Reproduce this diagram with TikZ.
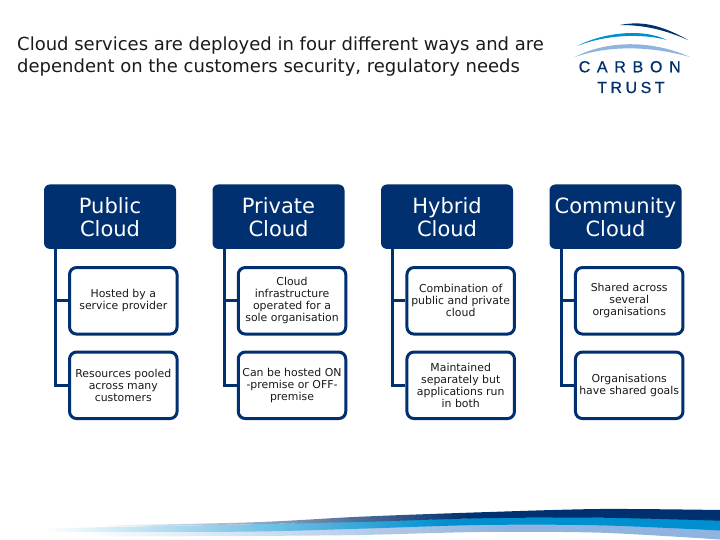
\documentclass[tikz,border=0pt]{standalone}
\usepackage{fontspec}
\setmainfont{DejaVu Sans}
\newfontfamily\logofont[LetterSpace=42,FakeBold=0.7]{Liberation Sans}
\newfontfamily\logofontb[LetterSpace=22,FakeBold=0.7]{Liberation Sans}
\usepackage{tikz}
\definecolor{cnavy}{HTML}{00306F}
\definecolor{csky}{HTML}{0090D0}
\definecolor{cpale}{HTML}{8FB4DF}
\definecolor{ctext}{HTML}{1A1A1A}
% bands at the bottom, 25bp to 75bp of each shading spans the page width
\pgfdeclarehorizontalshading{navyband}{100bp}{color(0bp)=(white); color(32bp)=(white); color(57.6bp)=(cnavy); color(100bp)=(cnavy)}
\pgfdeclarehorizontalshading{skyband}{100bp}{color(0bp)=(white); color(28bp)=(white); color(56bp)=(csky); color(100bp)=(csky)}
\pgfdeclarehorizontalshading{paleband}{100bp}{color(0bp)=(white); color(30.5bp)=(white); color(60bp)=(cpale); color(100bp)=(cpale)}
\tikzset{
  headbox/.style={fill=cnavy,text=white,rounded corners=6pt,minimum width=132pt,minimum height=64.5pt,
    align=center,font=\fontsize{21}{23}\selectfont,inner sep=0pt},
  itembox/.style={draw=cnavy,line width=3pt,fill=white,text=ctext,rounded corners=7pt,minimum width=107.5pt,
    minimum height=66.5pt,align=center,font=\fontsize{10.9}{12}\selectfont,inner sep=0pt},
  branch/.style={draw=cnavy,line width=3pt},
  logotext/.style={text=cnavy,inner sep=0pt,anchor=base west}
}
\begin{document}
\begin{tikzpicture}[x=1pt,y=-1pt]
    \useasboundingbox (0,0) rectangle (720,540);
    % bottom swoosh, lowest band first
    \shade[shading=paleband] plot[smooth] coordinates {(0,532) (240,531) (360,528) (480,524.5) (600,524.5) (720,530)}
       -- plot[smooth] coordinates {(720,539.5) (600,532.7) (480,532) (360,535) (240,536) (0,537)} -- cycle;
    \shade[shading=skyband] plot[smooth] coordinates {(0,529) (240,524.5) (360,521.5) (480,518) (600,517.3) (720,520.2)}
       -- plot[smooth] coordinates {(720,530.5) (600,525.3) (480,525) (360,528.7) (240,531.7) (0,532)} -- cycle;
    \shade[shading=navyband] plot[smooth] coordinates {(0,527) (240,522.7) (360,516.7) (480,512.3) (600,509) (720,510)}
       -- plot[smooth] coordinates {(720,520.7) (600,517.7) (480,518.3) (360,522) (240,524.5) (0,529)} -- cycle;
    % logo, swooshes then letters
    \fill[cnavy] (620,25) .. controls (640,21) and (660,24) .. (688,40) .. controls (665,30) and (645,25) .. (620,25) -- cycle;
    \fill[csky] (577,46) .. controls (600,34) and (640,27) .. (667,40) .. controls (640,33) and (605,35) .. (577,46) -- cycle;
    \fill[cpale] (575,57) .. controls (605,41) and (650,39) .. (690,57) .. controls (650,46) and (610,45) .. (575,57) -- cycle;
    \node[logotext,font=\logofont\fontsize{16}{16}\selectfont] (carbon) at (578.5,72.3) {CARBON};
    \node[logotext,font=\logofontb\fontsize{16}{16}\selectfont] (trust) at (597,93) {TRUST};
    % title
    \node[anchor=north west,inner sep=0pt,align=left,text=ctext,font=\fontsize{18}{22}\selectfont] (title) at (17,37)
      {Cloud services are deployed in four different ways and are\\dependent on the customers security, regulatory needs};
    % the four heads
    \node[headbox] (public) at (110,216.7) {Public\\Cloud};
    \node[headbox] (private) at (278.5,216.7) {Private\\Cloud};
    \node[headbox] (hybrid) at (447,216.7) {Hybrid\\Cloud};
    \node[headbox] (community) at (615.5,216.7) {Community\\Cloud};
    % items, top row then bottom row
    \node[itembox] (publicA) at (123.3,300.8) {Hosted by a\\service provider};
    \node[itembox] (privateA) at (292,300.8) {Cloud\\infrastructure\\operated for a\\sole organisation};
    \node[itembox] (hybridA) at (460.7,300.8) {Combination of\\public and private\\cloud};
    \node[itembox] (communityA) at (629.2,300.8) {Shared across\\several\\organisations};
    \node[itembox] (publicB) at (123.3,385.3) {Resources pooled\\across many\\customers};
    \node[itembox] (privateB) at (292,385.3) {Can be hosted ON\\-premise or OFF-\\premise};
    \node[itembox] (hybridB) at (460.7,385.3) {Maintained\\separately but\\applications run\\in both};
    \node[itembox] (communityB) at (629.2,385.3) {Organisations\\have shared goals};
    % spines and branches
    \draw[branch] ([xshift=12pt]public.south west) |- (publicA.west);
    \draw[branch] ([xshift=12pt]public.south west) |- (publicB.west);
    \draw[branch] ([xshift=12pt]private.south west) |- (privateA.west);
    \draw[branch] ([xshift=12pt]private.south west) |- (privateB.west);
    \draw[branch] ([xshift=12pt]hybrid.south west) |- (hybridA.west);
    \draw[branch] ([xshift=12pt]hybrid.south west) |- (hybridB.west);
    \draw[branch] ([xshift=12pt]community.south west) |- (communityA.west);
    \draw[branch] ([xshift=12pt]community.south west) |- (communityB.west);
\end{tikzpicture}
\end{document}
